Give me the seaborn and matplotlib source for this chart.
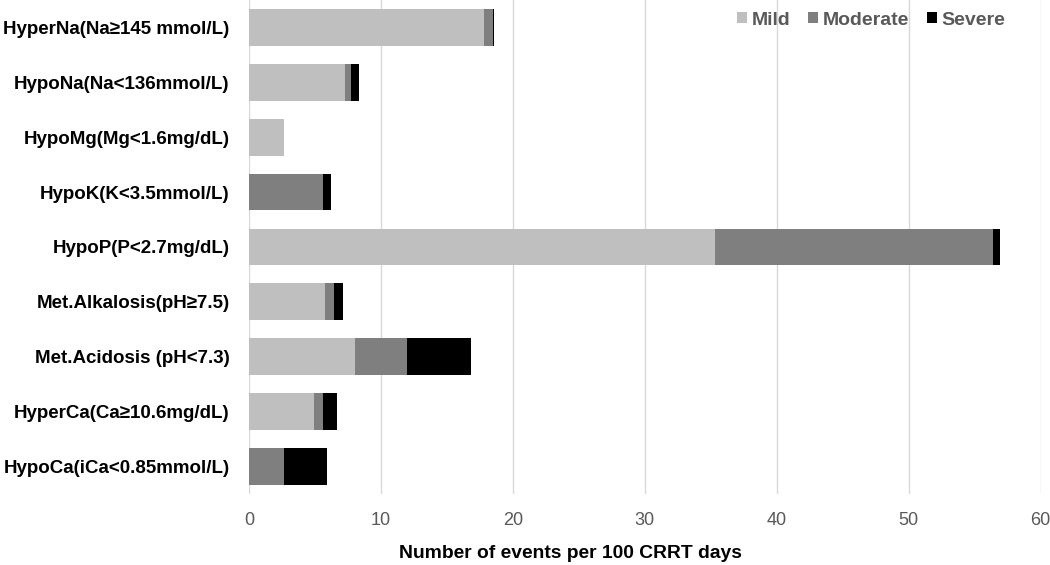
import matplotlib
matplotlib.use("Agg")
import matplotlib.pyplot as plt
import seaborn as sns
import pandas as pd
import numpy as np
from matplotlib.patches import Patch

categories = ["HyperNa(Na\u2265145 mmol/L)", "HypoNa(Na<136mmol/L)", "HypoMg(Mg<1.6mg/dL)",
              "HypoK(K<3.5mmol/L)", "HypoP(P<2.7mg/dL)", "Met.Alkalosis(pH\u22657.5)",
              "Met.Acidosis (pH<7.3)", "HyperCa(Ca\u226510.6mg/dL)", "HypoCa(iCa<0.85mmol/L)"]
mild = [17.8, 7.25, 2.65, 0.0, 35.3, 5.76, 8.05, 4.95, 0.0]
moderate = [0.7, 0.48, 0.0, 5.65, 21.1, 0.71, 3.9, 0.7, 2.65]
severe = [0.1, 0.6, 0.0, 0.6, 0.5, 0.68, 4.9, 1.0, 3.3]
series_names = ["Mild", "Moderate", "Severe"]
colors = ["#BFBFBF", "#7F7F7F", "#000000"]
xticks = [0, 10, 20, 30, 40, 50, 60]

sns.set_theme(style="white")
plt.rcParams["font.family"] = ["Liberation Sans", "DejaVu Sans"]

df = pd.DataFrame({"cat": categories, "Mild": mild, "Moderate": moderate, "Severe": severe})
df["c1"] = df["Mild"]
df["c2"] = df["Mild"] + df["Moderate"]
df["c3"] = df["c2"] + df["Severe"]

fig = plt.figure(figsize=(10.5, 5.65), dpi=100)
ax = fig.add_axes([0.237, 0.126, 0.754, 0.874])

for col, color in zip(["c3", "c2", "c1"], colors[::-1]):
    sns.barplot(data=df, y="cat", x=col, orient="h", color=color, width=0.67,
                order=categories, ax=ax, saturation=1, edgecolor="none", zorder=3)

ax.set_xlim(0, 60)
ax.set_xticks(xticks)
ax.set_xticklabels([str(t) for t in xticks])
ax.set_ylim(8.5, -0.5)
ax.grid(axis="x", color="#D9D9D9", linewidth=1.0, zorder=0)
ax.grid(axis="y", visible=False)
for s in ax.spines.values():
    s.set_visible(False)
ax.tick_params(axis="x", colors="#595959", labelsize=13, pad=13, length=0)
ax.tick_params(axis="y", labelsize=13.5, pad=14, length=0)
for lbl in ax.get_yticklabels():
    lbl.set_fontweight("bold")
    lbl.set_color("black")
ax.set_ylabel("")
ax.set_xlabel("")
fig.text(570 / 1050, 1 - 553 / 565, "Number of events per 100 CRRT days", fontsize=13.9,
         fontweight="bold", color="black", ha="center", va="center")

handles = [Patch(facecolor=c, edgecolor="none") for c in colors]
leg = ax.legend(handles, series_names, loc="upper right", ncol=3, frameon=False,
                bbox_to_anchor=(0.978, 1.012), handlelength=0.52, handleheight=0.52,
                handletextpad=0.26, columnspacing=0.88,
                prop={"size": 14, "weight": "bold"})
for t in leg.get_texts():
    t.set_color("#595959")

fig.savefig("out.png", dpi=100)
